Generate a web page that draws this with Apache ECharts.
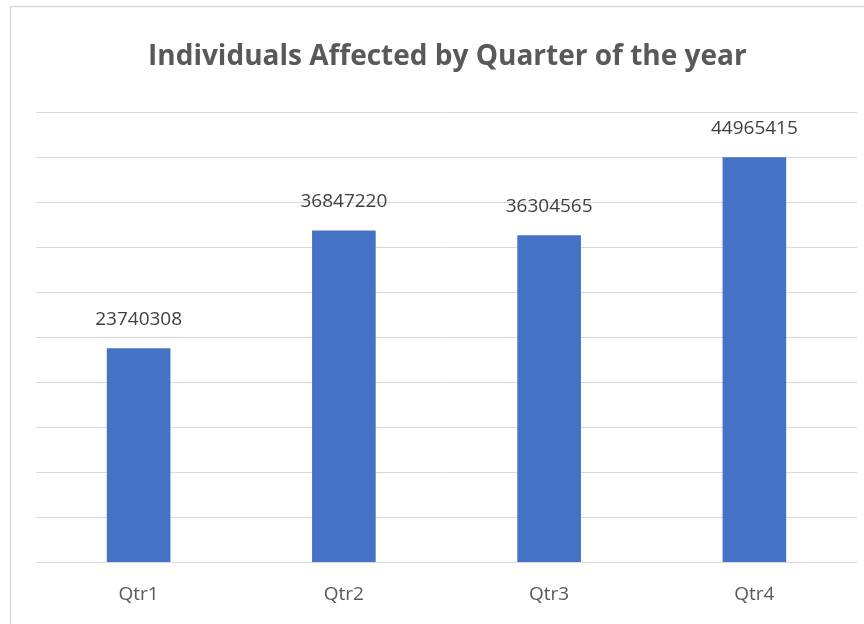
<!DOCTYPE html>
<html>
<head>
<meta charset="utf-8">
<script src="https://cdn.jsdelivr.net/npm/echarts@6/dist/echarts.min.js"></script>
<style>
  html, body { margin: 0; padding: 0; background: #ffffff; }
  #chart { width: 864px; height: 624px; }
</style>
</head>
<body>
<div id="chart"></div>
<script>
// Quarterly totals of affected individuals
const quarters = ['Qtr1', 'Qtr2', 'Qtr3', 'Qtr4'];
const affected = [23740308, 36847220, 36304565, 44965415];

const chart = echarts.init(document.getElementById('chart'), null, { renderer: 'canvas' });

chart.setOption({
  backgroundColor: '#ffffff',
  animation: false,
  title: {
    text: 'Individuals Affected by Quarter of the year',
    left: 143,
    top: 38,
    textStyle: {
      fontFamily: 'Open Sans',
      fontWeight: 'bold',
      fontSize: 28,
      color: '#595959'
    }
  },
  graphic: [{
    type: 'polyline',
    shape: { points: [[10.5, 624], [10.5, 6.5], [864, 6.5]] },
    style: { stroke: '#d9d9d9', lineWidth: 1.5, fill: null },
    silent: true
  }],
  grid: { left: 36, right: 7, top: 112, bottom: 62, containLabel: false },
  xAxis: {
    type: 'category',
    data: quarters,
    axisTick: { show: false },
    axisLine: { show: true, lineStyle: { color: '#d9d9d9', width: 1 } },
    axisLabel: {
      margin: 23,
      fontFamily: 'Open Sans',
      fontSize: 19,
      color: '#595959'
    }
  },
  yAxis: {
    type: 'value',
    min: 0,
    max: 50000000,
    interval: 5000000,
    axisLabel: { show: false },
    axisLine: { show: false },
    axisTick: { show: false },
    splitLine: { lineStyle: { color: '#d9d9d9', width: 1 } }
  },
  series: [{
    type: 'bar',
    data: affected,
    barWidth: '31%',
    itemStyle: { color: '#4472c4' },
    label: {
      show: true,
      position: 'top',
      distance: 19,
      fontFamily: 'Open Sans',
      fontSize: 19,
      color: '#404040'
    }
  }]
});
</script>
</body>
</html>
